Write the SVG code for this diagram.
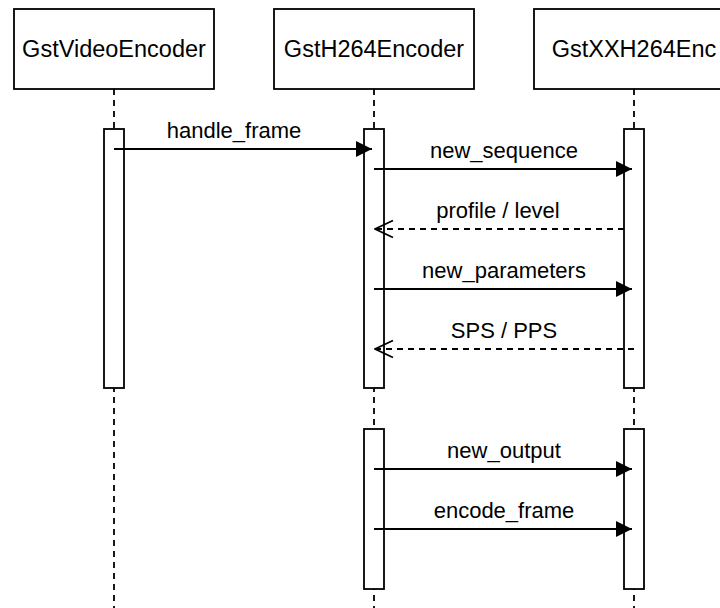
<svg xmlns="http://www.w3.org/2000/svg" width="720" height="608" viewBox="0 0 720 608">
  <style>
    .box { fill: #ffffff; stroke: #000000; stroke-width: 1.8; }
    .life { stroke: #000000; stroke-width: 1.8; stroke-dasharray: 6 5; fill: none; }
    .act { fill: #ffffff; stroke: #000000; stroke-width: 1.8; }
    .msg { stroke: #000000; stroke-width: 1.8; fill: none; }
    .ret { stroke: #000000; stroke-width: 1.8; fill: none; stroke-dasharray: 6 5; }
    .title { font-family: "Liberation Sans", Arial, sans-serif; font-size: 23.5px; fill: #000000; text-anchor: middle; }
    .label { font-family: "Liberation Sans", Arial, sans-serif; font-size: 22px; fill: #000000; text-anchor: middle; }
  </style>
  <defs>
    <marker id="block" markerUnits="userSpaceOnUse" markerWidth="16" markerHeight="16" refX="16" refY="8" orient="auto">
      <path d="M0,0 L16,8 L0,16 Z" fill="#000000"/>
    </marker>
    <marker id="open" markerUnits="userSpaceOnUse" markerWidth="20" markerHeight="20" refX="19" refY="9.5" orient="auto">
      <path d="M1,1 L19,9.5 L1,18" fill="none" stroke="#000000" stroke-width="1.8"/>
    </marker>
  </defs>

  <!-- lifelines -->
  <g id="lifelines">
    <line class="life" x1="114" y1="89" x2="114" y2="608"/>
    <line class="life" x1="374" y1="89" x2="374" y2="608"/>
    <line class="life" x1="634" y1="89" x2="634" y2="608"/>
  </g>

  <!-- participants -->
  <g id="GstVideoEncoder">
    <rect class="box" x="14" y="9" width="200" height="80"/>
    <text class="title" x="114" y="57">GstVideoEncoder</text>
    <rect class="act" x="104" y="129" width="20" height="259"/>
  </g>
  <g id="GstH264Encoder">
    <rect class="box" x="274" y="9" width="200" height="80"/>
    <text class="title" x="374" y="57">GstH264Encoder</text>
    <rect class="act" x="364" y="129" width="20" height="259"/>
    <rect class="act" x="364" y="429" width="20" height="160"/>
  </g>
  <g id="GstXXH264Enc">
    <rect class="box" x="534" y="9" width="200" height="80"/>
    <text class="title" x="634" y="57">GstXXH264Enc</text>
    <rect class="act" x="624" y="129" width="20" height="259"/>
    <rect class="act" x="624" y="429" width="20" height="160"/>
  </g>

  <!-- messages -->
  <g id="connectors">
    <line class="msg" x1="114" y1="149" x2="372" y2="149" marker-end="url(#block)"/>
    <text class="label" x="234" y="138">handle_frame</text>

    <line class="msg" x1="374" y1="169" x2="632" y2="169" marker-end="url(#block)"/>
    <text class="label" x="504" y="158">new_sequence</text>

    <line class="ret" x1="624" y1="229" x2="375" y2="229" marker-end="url(#open)"/>
    <text class="label" x="498" y="218">profile / level</text>

    <line class="msg" x1="374" y1="289" x2="632" y2="289" marker-end="url(#block)"/>
    <text class="label" x="504" y="278">new_parameters</text>

    <line class="ret" x1="634" y1="349" x2="375" y2="349" marker-end="url(#open)"/>
    <text class="label" x="504" y="338">SPS / PPS</text>

    <line class="msg" x1="374" y1="469" x2="632" y2="469" marker-end="url(#block)"/>
    <text class="label" x="504" y="458">new_output</text>

    <line class="msg" x1="374" y1="529" x2="632" y2="529" marker-end="url(#block)"/>
    <text class="label" x="504" y="518">encode_frame</text>
  </g>
</svg>
